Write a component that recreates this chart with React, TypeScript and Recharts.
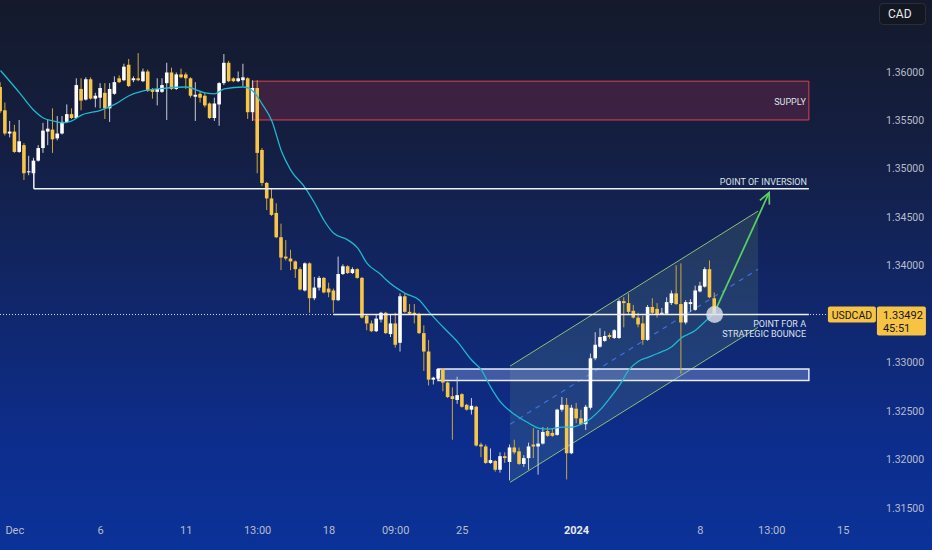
import React from 'react';
import { ComposedChart, Bar, Line, XAxis, YAxis, ReferenceArea, ReferenceLine, ReferenceDot } from 'recharts';

// 4h candles, USDCAD, Dec 1 2023 .. Jan 9 2024
const opens = [
  1.3584, 1.3560, 1.3536, 1.3538, 1.3517, 1.3524, 1.3496, 1.3495, 1.3508, 1.3521,
  1.3538, 1.3540, 1.3531, 1.3536, 1.3548, 1.3556, 1.3552, 1.3582, 1.3571, 1.3592,
  1.3572, 1.3573, 1.3578, 1.3562, 1.3577, 1.3593, 1.3591, 1.3607, 1.3591, 1.3593,
  1.3590, 1.3600, 1.3582, 1.3579, 1.3579, 1.3588, 1.3599, 1.3582, 1.3597, 1.3597,
  1.3593, 1.3574, 1.3577, 1.3575, 1.3567, 1.3552, 1.3566, 1.3588, 1.3609, 1.3593,
  1.3590, 1.3591, 1.3593, 1.3558, 1.3583, 1.3519, 1.3485, 1.3469, 1.3454, 1.3429,
  1.3409, 1.3407, 1.3404, 1.3396, 1.3374, 1.3402, 1.3366, 1.3377, 1.3387, 1.3376,
  1.3374, 1.3364, 1.3391, 1.3399, 1.3392, 1.3396, 1.3387, 1.3348, 1.3340, 1.3332,
  1.3344, 1.3351, 1.3329, 1.3340, 1.3320, 1.3368, 1.3352, 1.3351, 1.3349, 1.3330,
  1.3311, 1.3282, 1.3283, 1.3293, 1.3279, 1.3265, 1.3261, 1.3267, 1.3256, 1.3251,
  1.3254, 1.3215, 1.3213, 1.3196, 1.3198, 1.3189, 1.3203, 1.3197, 1.3212, 1.3208,
  1.3195, 1.3201, 1.3215, 1.3213, 1.3216, 1.3229, 1.3227, 1.3225, 1.3251, 1.3256,
  1.3206, 1.3252, 1.3242, 1.3236, 1.3253, 1.3304, 1.3316, 1.3322, 1.3328, 1.3325,
  1.3325, 1.3363, 1.3361, 1.3353, 1.3346, 1.3340, 1.3323, 1.3357, 1.3355, 1.3350,
  1.3350, 1.3361, 1.3371, 1.3360, 1.3341, 1.3360, 1.3354, 1.3373, 1.3378, 1.3396,
  1.3366,
];
const highs = [
  1.3589, 1.3568, 1.3549, 1.3545, 1.3550, 1.3526, 1.3513, 1.3511, 1.3524, 1.3547,
  1.3550, 1.3562, 1.3554, 1.3554, 1.3566, 1.3562, 1.3593, 1.3593, 1.3594, 1.3594,
  1.3578, 1.3588, 1.3588, 1.3588, 1.3595, 1.3596, 1.3608, 1.3613, 1.3595, 1.3619,
  1.3603, 1.3602, 1.3583, 1.3593, 1.3593, 1.3609, 1.3604, 1.3599, 1.3603, 1.3599,
  1.3594, 1.3589, 1.3580, 1.3578, 1.3568, 1.3573, 1.3589, 1.3618, 1.3611, 1.3594,
  1.3600, 1.3608, 1.3594, 1.3591, 1.3591, 1.3521, 1.3486, 1.3479, 1.3464, 1.3443,
  1.3426, 1.3416, 1.3405, 1.3398, 1.3403, 1.3403, 1.3388, 1.3389, 1.3388, 1.3382,
  1.3376, 1.3409, 1.3401, 1.3400, 1.3398, 1.3397, 1.3388, 1.3349, 1.3343, 1.3349,
  1.3352, 1.3352, 1.3349, 1.3351, 1.3371, 1.3371, 1.3360, 1.3360, 1.3351, 1.3338,
  1.3323, 1.3285, 1.3294, 1.3294, 1.3280, 1.3274, 1.3285, 1.3268, 1.3257, 1.3263,
  1.3255, 1.3217, 1.3215, 1.3211, 1.3199, 1.3207, 1.3207, 1.3215, 1.3220, 1.3212,
  1.3204, 1.3217, 1.3232, 1.3230, 1.3233, 1.3233, 1.3232, 1.3252, 1.3264, 1.3263,
  1.3256, 1.3258, 1.3251, 1.3256, 1.3309, 1.3331, 1.3335, 1.3332, 1.3330, 1.3334,
  1.3365, 1.3367, 1.3371, 1.3359, 1.3351, 1.3348, 1.3359, 1.3366, 1.3361, 1.3356,
  1.3367, 1.3374, 1.3400, 1.3402, 1.3364, 1.3365, 1.3379, 1.3383, 1.3398, 1.3405,
  1.3372,
];
const lows = [
  1.3557, 1.3534, 1.3532, 1.3516, 1.3516, 1.3488, 1.3493, 1.3493, 1.3507, 1.3516,
  1.3524, 1.3516, 1.3529, 1.3535, 1.3547, 1.3551, 1.3551, 1.3560, 1.3570, 1.3571,
  1.3563, 1.3562, 1.3551, 1.3548, 1.3576, 1.3588, 1.3590, 1.3584, 1.3589, 1.3590,
  1.3589, 1.3579, 1.3572, 1.3565, 1.3578, 1.3550, 1.3581, 1.3581, 1.3593, 1.3582,
  1.3573, 1.3549, 1.3568, 1.3563, 1.3551, 1.3549, 1.3544, 1.3586, 1.3589, 1.3589,
  1.3589, 1.3585, 1.3551, 1.3549, 1.3495, 1.3482, 1.3457, 1.3451, 1.3428, 1.3395,
  1.3405, 1.3395, 1.3387, 1.3374, 1.3373, 1.3351, 1.3364, 1.3374, 1.3371, 1.3367,
  1.3351, 1.3363, 1.3390, 1.3391, 1.3391, 1.3386, 1.3345, 1.3333, 1.3331, 1.3331,
  1.3341, 1.3329, 1.3326, 1.3315, 1.3311, 1.3351, 1.3349, 1.3340, 1.3329, 1.3291,
  1.3276, 1.3277, 1.3282, 1.3270, 1.3263, 1.3220, 1.3257, 1.3253, 1.3250, 1.3246,
  1.3213, 1.3202, 1.3195, 1.3195, 1.3187, 1.3186, 1.3196, 1.3178, 1.3205, 1.3194,
  1.3192, 1.3189, 1.3201, 1.3184, 1.3215, 1.3223, 1.3223, 1.3224, 1.3249, 1.3179,
  1.3205, 1.3237, 1.3235, 1.3230, 1.3251, 1.3302, 1.3315, 1.3321, 1.3324, 1.3324,
  1.3324, 1.3336, 1.3349, 1.3345, 1.3336, 1.3318, 1.3322, 1.3349, 1.3346, 1.3349,
  1.3349, 1.3359, 1.3359, 1.3288, 1.3339, 1.3352, 1.3353, 1.3372, 1.3377, 1.3366,
  1.3349,
];
const closes = [
  1.3559, 1.3536, 1.3538, 1.3517, 1.3528, 1.3495, 1.3497, 1.3508, 1.3521, 1.3539,
  1.3541, 1.3530, 1.3536, 1.3548, 1.3556, 1.3552, 1.3586, 1.3570, 1.3592, 1.3572,
  1.3575, 1.3583, 1.3562, 1.3582, 1.3589, 1.3589, 1.3605, 1.3585, 1.3593, 1.3591,
  1.3600, 1.3580, 1.3579, 1.3582, 1.3586, 1.3599, 1.3582, 1.3597, 1.3594, 1.3593,
  1.3575, 1.3576, 1.3573, 1.3565, 1.3552, 1.3567, 1.3588, 1.3609, 1.3590, 1.3590,
  1.3593, 1.3594, 1.3558, 1.3583, 1.3516, 1.3485, 1.3469, 1.3452, 1.3429, 1.3408,
  1.3407, 1.3404, 1.3396, 1.3375, 1.3402, 1.3366, 1.3377, 1.3387, 1.3372, 1.3372,
  1.3364, 1.3391, 1.3399, 1.3392, 1.3396, 1.3387, 1.3346, 1.3340, 1.3332, 1.3345,
  1.3351, 1.3330, 1.3340, 1.3318, 1.3368, 1.3352, 1.3350, 1.3349, 1.3330, 1.3311,
  1.3282, 1.3284, 1.3293, 1.3279, 1.3264, 1.3262, 1.3266, 1.3254, 1.3251, 1.3255,
  1.3214, 1.3213, 1.3196, 1.3199, 1.3189, 1.3203, 1.3201, 1.3212, 1.3207, 1.3195,
  1.3201, 1.3213, 1.3213, 1.3216, 1.3228, 1.3224, 1.3224, 1.3251, 1.3256, 1.3206,
  1.3253, 1.3242, 1.3236, 1.3254, 1.3304, 1.3318, 1.3326, 1.3327, 1.3326, 1.3333,
  1.3363, 1.3361, 1.3352, 1.3346, 1.3339, 1.3323, 1.3357, 1.3351, 1.3349, 1.3351,
  1.3362, 1.3371, 1.3360, 1.3341, 1.3362, 1.3362, 1.3374, 1.3379, 1.3396, 1.3367,
  1.3349,
];

// moving average, read at a few candles and drawn as a smooth curve
const maIndex = [
  0, 4, 7, 9, 11, 13, 15, 17, 21, 24, 27, 30, 35, 39, 43, 45, 47, 51, 53, 55,
  57, 59, 61, 64, 66, 68, 70, 73, 75, 77, 80, 81, 85, 88, 90, 93, 96, 99, 101, 103,
  105, 108, 111, 113, 115, 118, 120, 122, 124, 126, 128, 130, 132, 134, 136, 138, 141, 143, 146, 148,
  150,
];
const maValues = [
  1.3601, 1.3578, 1.3560, 1.3552, 1.3549, 1.3547, 1.3549, 1.3555, 1.3560, 1.3566,
  1.3575, 1.3580, 1.3583, 1.3584, 1.3578, 1.3577, 1.3582, 1.3584, 1.3580, 1.3566,
  1.3549, 1.3518, 1.3498, 1.3480, 1.3464, 1.3446, 1.3433, 1.3426, 1.3418, 1.3402,
  1.3390, 1.3385, 1.3371, 1.3364, 1.3352, 1.3336, 1.3321, 1.3302, 1.3292, 1.3274,
  1.3259, 1.3246, 1.3237, 1.3232, 1.3231, 1.3233, 1.3233, 1.3236, 1.3242, 1.3251,
  1.3263, 1.3276, 1.3292, 1.3301, 1.3305, 1.3309, 1.3316, 1.3325, 1.3333, 1.3342,
  1.3351,
];

// 1.335 is hidden behind the last-price badge
const priceTicks = [1.315, 1.32, 1.325, 1.33, 1.34, 1.345, 1.35, 1.355, 1.36];
const timeTickIndex = [3, 21, 39, 54, 69, 83, 97, 121, 147, 162, 177];
const timeTickLabels = ['Dec', '6', '11', '13:00', '18', '09:00', '25', '2024', '8', '13:00', '15'];

const lastPrice = 1.33492;
const countdown = '45:51';

// drawn levels
const supplyZone = [1.355, 1.359];
const inversionLevel = 1.3479;
const supportZone = [1.3281, 1.3293];
const channelLower = [1.3176, 1.3336];
const channelUpper = [1.3296, 1.3456];
const channelMid = [1.3236, 1.3396];
const arrowFrom = 1.3357;
const arrowTo = 1.3475;

const data = opens.map((open, i) => ({
  i,
  open,
  high: highs[i],
  low: lows[i],
  close: closes[i],
  ma: null as number | null,
}));
maIndex.forEach((idx, k) => {
  data[idx].ma = maValues[k];
});

const UP = '#ffffff';
const DOWN = '#f7c548';
const TEXT = '#dde1ea';
const FONT = 'Roboto, sans-serif';

function Candle(props: any) {
  const { x, y, width, height, payload } = props;
  if (!payload || payload.open == null) return null;
  const { open, close, high, low } = payload;
  const top = height >= 0 ? y : y + height;
  const h = Math.abs(height);
  const k = h / (high - low || 1e-9);
  const cx = x + width / 2;
  const yo = top + (high - open) * k;
  const yc = top + (high - close) * k;
  const up = close >= open;
  const bodyTop = Math.min(yo, yc);
  const bodyH = Math.max(1, Math.abs(yo - yc));
  return (
    <g>
      <line x1={cx} x2={cx} y1={top} y2={top + h} stroke={up ? '#c9ced9' : '#cfa53c'} strokeWidth={1} />
      <rect x={cx - 1.8} y={bodyTop} width={3.6} height={bodyH} fill={up ? UP : DOWN} />
    </g>
  );
}

function Channel(props: any) {
  const { x, y, width, height } = props;
  const hi = channelUpper[1];
  const lo = channelLower[0];
  const py = (p: number) => y + ((hi - p) / (hi - lo)) * height;
  const x2 = x + width;
  const pts = `${x},${py(channelUpper[0])} ${x2},${py(channelUpper[1])} ${x2},${py(channelLower[1])} ${x},${py(channelLower[0])}`;
  return (
    <g>
      <polygon points={pts} fill="#8fc98a" fillOpacity={0.14} />
      <line x1={x} y1={py(channelUpper[0])} x2={x2} y2={py(channelUpper[1])} stroke="#8dbf74" strokeWidth={1} />
      <line x1={x} y1={py(channelLower[0])} x2={x2} y2={py(channelLower[1])} stroke="#8dbf74" strokeWidth={1} />
      <line x1={x} y1={py(channelMid[0])} x2={x2} y2={py(channelMid[1])} stroke="#3f6fe0" strokeWidth={1.2} strokeDasharray="5 5" />
    </g>
  );
}

function Arrow(props: any) {
  const { x1, y1, x2, y2 } = props;
  const ang = Math.atan2(y2 - y1, x2 - x1);
  const len = 12;
  const a1 = ang + Math.PI - 0.45;
  const a2 = ang + Math.PI + 0.45;
  const pts = `${x2 + len * Math.cos(a1)},${y2 + len * Math.sin(a1)} ${x2},${y2} ${x2 + len * Math.cos(a2)},${y2 + len * Math.sin(a2)}`;
  return (
    <g>
      <line x1={x1} y1={y1} x2={x2} y2={y2} stroke="#5bcf63" strokeWidth={1.7} />
      <polyline points={pts} fill="none" stroke="#5bcf63" strokeWidth={1.7} />
    </g>
  );
}

const note = (lines: string[]) => (p: any) => (
  <text x={p.cx} y={p.cy} textAnchor="end" fontSize={9} fill={TEXT} fontFamily={FONT}>
    {lines.map((l, k) => (
      <tspan key={k} x={p.cx} dy={k === 0 ? 0 : 10}>
        {l}
      </tspan>
    ))}
  </text>
);

function PriceBadges(p: any) {
  const { cx, cy } = p;
  return (
    <g fontFamily={FONT}>
      <rect x={cx} y={cy - 8} width={48} height={16} rx={2} fill="#f6c343" />
      <text x={cx + 24} y={cy + 4} textAnchor="middle" fontSize={10.5} fill="#131722">USDCAD</text>
      <rect x={cx + 49} y={cy - 8} width={49} height={29} rx={2} fill="#f6c343" />
      <text x={cx + 55} y={cy + 4} fontSize={11} fill="#131722">{lastPrice.toFixed(5)}</text>
      <text x={cx + 55} y={cy + 17} fontSize={11} fill="#131722">{countdown}</text>
    </g>
  );
}

function TimeTick(props: any) {
  const { x, y, payload } = props;
  const k = timeTickIndex.indexOf(payload.value);
  const label = timeTickLabels[k] ?? '';
  const bold = label === '2024';
  return (
    <text x={x} y={y + 16} textAnchor="middle" fontSize={11} fontFamily={FONT} fontWeight={bold ? 700 : 400} fill={bold ? '#e8eaf0' : '#b7bdcc'}>
      {label}
    </text>
  );
}

function PriceTick(props: any) {
  const { x, y, payload } = props;
  return (
    <text x={x + 8} y={y + 4} fontSize={10.5} fontFamily={FONT} fill="#b7bdcc">
      {Number(payload.value).toFixed(5)}
    </text>
  );
}

export default function App() {
  return (
    <div
      style={{
        position: 'fixed',
        left: 0,
        top: 0,
        width: 932,
        height: 550,
        overflow: 'hidden',
        fontFamily: FONT,
        background: 'linear-gradient(180deg, #141a2b 0%, #141e40 25%, #112666 52%, #0d2d8c 80%, #0b3299 100%)',
      }}
    >
      <ComposedChart width={932} height={550} data={data} margin={{ top: 0, right: 0, bottom: 0, left: 0 }}>
        <XAxis
          dataKey="i"
          type="number"
          domain={[-0.105, 183.9]}
          allowDataOverflow
          ticks={timeTickIndex}
          interval={0}
          tick={<TimeTick />}
          tickSize={0}
          tickMargin={0}
          axisLine={false}
          tickLine={false}
          height={32}
        />
        <YAxis
          orientation="right"
          type="number"
          domain={[1.31392, 1.36738]}
          allowDataOverflow
          ticks={priceTicks}
          interval={0}
          tick={<PriceTick />}
          tickSize={0}
          axisLine={false}
          tickLine={false}
          width={56}
        />

        <ReferenceArea
          x1={107.04}
          x2={159.14}
          y1={channelLower[0]}
          y2={channelUpper[1]}
          shape={<Channel />}
        />
        <ReferenceArea
          x1={53.05}
          x2={169.8}
          y1={supplyZone[0]}
          y2={supplyZone[1]}
          fill="#8a2a50"
          fillOpacity={0.35}
          stroke="#e0404f"
          strokeWidth={1}
        />
        <ReferenceArea
          x1={91.9}
          x2={169.8}
          y1={supportZone[0]}
          y2={supportZone[1]}
          fill="#9db4f0"
          fillOpacity={0.35}
          stroke="#e8ecf5"
          strokeWidth={1.5}
        />

        <Bar dataKey={(d: any) => [d.low, d.high]} shape={Candle} barSize={4} isAnimationActive={false} />
        <Line
          dataKey="ma"
          type="monotone"
          connectNulls
          dot={false}
          activeDot={false}
          stroke="#1fb8cf"
          strokeWidth={1.3}
          isAnimationActive={false}
        />

        <ReferenceLine
          segment={[{ x: -0.1, y: lastPrice }, { x: 173.8, y: lastPrice }]}
          stroke="#d7dbe4"
          strokeDasharray="1 2"
          strokeWidth={1}
        />
        <ReferenceLine
          segment={[{ x: 69.9, y: lastPrice }, { x: 169.8, y: lastPrice }]}
          stroke="#eef0f5"
          strokeWidth={1.5}
        />
        <ReferenceLine
          segment={[{ x: 7.0, y: inversionLevel }, { x: 169.8, y: inversionLevel }]}
          stroke="#eef0f5"
          strokeWidth={1.5}
        />
        <ReferenceLine
          segment={[{ x: 7.0, y: 1.3497 }, { x: 7.0, y: inversionLevel }]}
          stroke="#eef0f5"
          strokeWidth={1.5}
        />
        <ReferenceLine
          segment={[{ x: 150.5, y: arrowFrom }, { x: 161.45, y: arrowTo }]}
          shape={<Arrow />}
        />
        <ReferenceDot x={150} y={lastPrice} r={8.5} fill="#dfe3ec" fillOpacity={0.8} stroke="none" />

        <ReferenceDot x={169.2} y={1.35656} r={0} shape={note(['SUPPLY'])} />
        <ReferenceDot x={169.4} y={1.34829} r={0} shape={note(['POINT OF INVERSION'])} />
        <ReferenceDot x={169.2} y={1.33363} r={0} shape={note(['POINT FOR A', 'STRATEGIC BOUNCE'])} />
        <ReferenceDot x={173.8} y={lastPrice} r={0} ifOverflow="visible" shape={<PriceBadges />} />
      </ComposedChart>
      <div
        style={{
          position: 'absolute',
          left: 879,
          top: 3,
          width: 47,
          height: 22,
          boxSizing: 'border-box',
          background: '#131722',
          border: '1px solid #2a2e39',
          borderRadius: 4,
          color: '#e8eaf0',
          fontSize: 12,
          lineHeight: '20px',
          paddingLeft: 8,
        }}
      >
        CAD
      </div>
    </div>
  );
}
